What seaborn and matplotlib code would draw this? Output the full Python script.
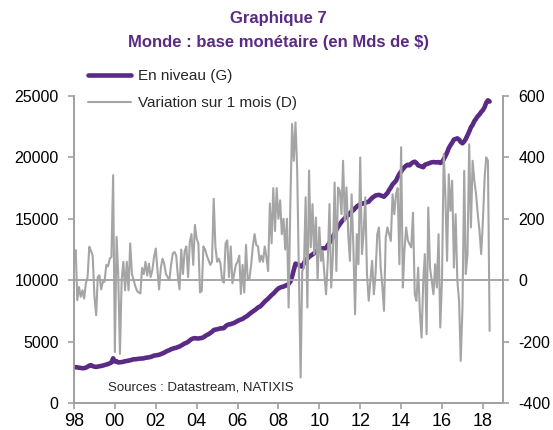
import matplotlib

matplotlib.use("Agg")
import matplotlib.pyplot as plt
from matplotlib.lines import Line2D
import numpy as np
import pandas as pd
import seaborn as sns

# Monthly data, Jan 1998 -> May 2018
# World monetary base, level (left axis, bn $)
level = [
    2900, 2920, 2900, 2880, 2850, 2830, 2840, 2880, 2950, 3050, 3080, 3000,      # 1998
    2960, 2940, 2960, 3000, 3010, 3050, 3080, 3120, 3170, 3230, 3300, 3640,      # 1999
    3380, 3400, 3300, 3320, 3330, 3360, 3400, 3420, 3450, 3480, 3520, 3560,      # 2000
    3560, 3580, 3600, 3620, 3620, 3640, 3680, 3700, 3720, 3750, 3800, 3860,      # 2001
    3880, 3900, 3930, 3980, 4040, 4100, 4180, 4250, 4300, 4380, 4430, 4470,      # 2002
    4500, 4560, 4600, 4680, 4760, 4850, 4900, 4980, 5100, 5200, 5260, 5280,      # 2003
    5260, 5250, 5270, 5300, 5350, 5450, 5540, 5600, 5700, 5800, 5940, 5980,      # 2004
    6000, 6040, 6080, 6080, 6100, 6250, 6350, 6400, 6420, 6480, 6520, 6600,      # 2005
    6680, 6750, 6800, 6850, 6950, 7030, 7120, 7250, 7350, 7440, 7550, 7650,      # 2006
    7780, 7840, 7950, 8100, 8250, 8380, 8500, 8650, 8790, 8900, 9050, 9200,      # 2007
    9330, 9400, 9450, 9480, 9550, 9600, 9700, 9880, 10300, 10800, 11350, 11300,  # 2008
    11250, 11150, 11100, 11400, 11650, 11750, 11900, 12000, 12100, 12200, 12300, 12450,  # 2009
    12550, 12600, 12580, 12600, 12620, 12850, 13050, 13250, 13550, 13800, 14100, 14350,  # 2010
    14550, 14750, 14900, 15050, 15200, 15300, 15450, 15600, 15700, 15850, 16000, 16100,  # 2011
    16150, 16250, 16250, 16300, 16350, 16400, 16550, 16700, 16800, 16900, 16930, 16950,  # 2012
    16900, 16850, 16800, 16950, 17100, 17350, 17550, 17800, 17950, 18100, 18400, 18650,  # 2013
    18850, 19050, 19200, 19330, 19400, 19350, 19500, 19600, 19650, 19550, 19350, 19300,  # 2014
    19250, 19200, 19400, 19450, 19500, 19550, 19600, 19620, 19600, 19600, 19620, 19550,  # 2015
    19600, 19850, 20100, 20400, 20750, 21000, 21200, 21450, 21500, 21550, 21450, 21250,  # 2016
    21150, 21300, 21500, 21800, 22100, 22450, 22650, 22950, 23150, 23350, 23500, 23700,  # 2017
    23850, 24100, 24450, 24650, 24550,                                           # 2018
]

# 1-month change (right axis, bn $)
variation = [
    87, 98, -65, -22, -54, -33, -60, -10, 10, 109, 95, 80,          # 1998
    -54, -114, 10, 16, -30, -5, -5, 50, 45, 70, 76, 342,            # 1999
    -234, 141, 20, -240, 0, 60, -33, 60, -33, 120, 20, 0,           # 2000
    -20, -35, -40, -43, 40, 20, 60, 15, 54, 10, 33, 76,             # 2001
    103, 30, -30, 40, 70, 54, 20, 10, 0, 50, 87, 92,                # 2002
    80, 10, -30, 100, 20, 95, 110, 10, 125, 150, 50, 180,           # 2003
    135, 120, -40, -35, 110, 100, 80, 65, 50, 60, 265, 110,         # 2004
    60, 70, 55, 0, -8, 120, 130, 10, 110, -10, 20, 50,              # 2005
    60, 80, -45, 50, -40, 115, 0, 5, 50, 110, 150, 115,             # 2006
    110, 60, 80, 60, 110, 75, 30, 250, 120, 300, 160, 300,          # 2007
    200, 260, 150, 200, 100, 200, -89, 250, 509, 389, 514, 360,     # 2008
    20, -317, 30, 41, 270, -89, 357, 107, 248, 85, 204, 0,          # 2009
    172, 63, 96, 20, -46, 63, 248, -24, 85, 318, 30, 302,           # 2010
    291, 215, 389, 193, 302, 150, 63, 280, 107, -111, 150, 52,      # 2011
    400, 85, 150, 270, 20, -67, 0, 63, -46, 20, 150, 172,           # 2012
    41, -24, -100, 139, 172, 150, 128, 280, 215, 280, 300, 52,      # 2013
    433, -24, 96, 172, 130, 117, 107, 220, -46, -67, 41, -100,      # 2014
    -187, 0, 85, -176, 237, 41, 0, -46, 52, -24, 150, -154,         # 2015
    0, 411, 280, 63, 345, 226, 324, 41, 215, 0, -67, -263,          # 2016
    -89, 356, 20, 85, 443, 172, 389, 324, 280, 215, 161, 85,        # 2017
    193, 335, 400, 389, -165,                                       # 2018
]

tick_years = [1998, 2000, 2002, 2004, 2006, 2008, 2010, 2012, 2014, 2016, 2018]
tick_labels = ["98", "00", "02", "04", "06", "08", "10", "12", "14", "16", "18"]
left_ticks = [0, 5000, 10000, 15000, 20000, 25000]
right_ticks = [-400, -200, 0, 200, 400, 600]

series_labels = ["En niveau (G)", "Variation sur 1 mois (D)"]
title_1 = "Graphique 7"
title_2 = "Monde : base monétaire (en Mds de $)"
source = "Sources : Datastream, NATIXIS"

PURPLE = "#5B2A84"
GREY = "#A5A5A5"
AXIS_GREY = "#A0A0A0"

sns.set_style("white")
plt.rcParams["font.family"] = ["Liberation Sans", "DejaVu Sans"]
plt.rcParams["axes.unicode_minus"] = False

dates = pd.date_range("1998-01-01", periods=len(level), freq="MS")
df = pd.DataFrame({"date": dates, "level": level, "variation": variation})

W, H = 553, 430
fig = plt.figure(figsize=(W / 100, H / 100), dpi=100)
ax = fig.add_axes([74 / W, 1 - 403 / H, (503 - 74) / W, (403 - 96) / H])
ax2 = ax.twinx()

# zero line of the right axis, under the series
ax2.axhline(0, color=AXIS_GREY, lw=1.3, zorder=1)

sns.lineplot(data=df, x="date", y="level", ax=ax, color=PURPLE, lw=3.3,
             legend=False, zorder=3)
sns.lineplot(data=df, x="date", y="variation", ax=ax2, color=GREY, lw=1.5,
             legend=False, zorder=2)

ax.set_xlim(pd.Timestamp("1998-01-01"), pd.Timestamp("2018-12-26"))
ax.set_ylim(0, 25000)
ax2.set_ylim(-400, 600)

ax.set_xticks([pd.Timestamp(f"{y}-01-01") for y in tick_years])
ax.set_xticklabels(tick_labels, fontsize=13)
ax.set_yticks(left_ticks)
ax.set_yticklabels([str(v) for v in left_ticks], fontsize=11.5)
ax2.set_yticks(right_ticks)
ax2.set_yticklabels([str(v) for v in right_ticks], fontsize=11.5)

ax.set_xlabel("")
ax.set_ylabel("")
ax2.set_ylabel("")

for a in (ax, ax2):
    a.spines["top"].set_visible(False)
    for side in ("left", "right", "bottom"):
        a.spines[side].set_color(AXIS_GREY)
        a.spines[side].set_linewidth(1.2)
    a.grid(False)

ax.tick_params(axis="x", bottom=True, direction="out", length=4, width=1.2,
               color=AXIS_GREY, pad=3, labelcolor="black")
ax.tick_params(axis="y", left=True, direction="out", length=4, width=1.2,
               color=AXIS_GREY, pad=7, labelcolor="black")
ax2.tick_params(axis="y", right=True, direction="out", length=4, width=1.2,
                color=AXIS_GREY, pad=7, labelcolor="black")

# titles
fig.text(278 / W, 1 - 18 / H, title_1, ha="center", va="center",
         fontsize=12, fontweight="bold", color=PURPLE)
fig.text(278 / W, 1 - 42 / H, title_2, ha="center", va="center",
         fontsize=12, fontweight="bold", color=PURPLE)

# legend
handles = [Line2D([], [], color=PURPLE, lw=3.3),
           Line2D([], [], color=GREY, lw=1.5)]
fig.legend(handles, series_labels, loc="center left",
           bbox_to_anchor=(88 / W, 1 - 89.5 / H), frameon=False,
           fontsize=11, handlelength=2.8, handletextpad=0.5,
           labelspacing=0.85, borderpad=0, borderaxespad=0)

fig.text(108 / W, 1 - 387 / H, source, ha="left", va="center", fontsize=9.5)

fig.savefig("out.png", dpi=100, facecolor="white")
